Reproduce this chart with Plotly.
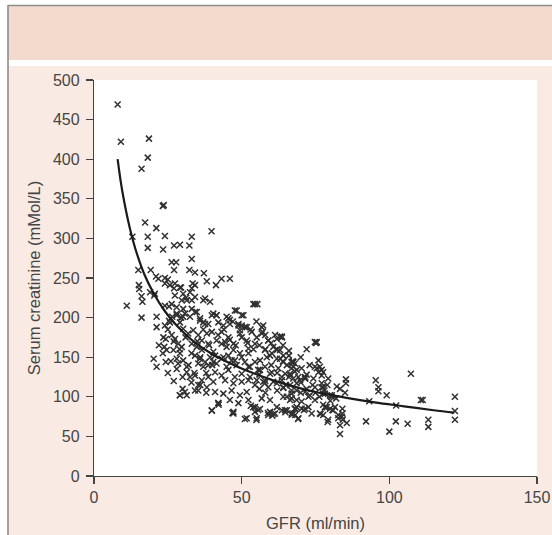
import plotly.graph_objects as go

# ---- Data ----
gfr = [
    8.0, 9.1, 18.6, 18.2, 16.1, 23.3, 23.6, 17.3, 21.1, 13.0, 18.2, 24.0, 33.1, 39.8,
    18.2, 23.4, 27.1, 29.1, 32.3, 26.3, 27.8, 33.1, 15.0, 19.2, 27.1, 32.3, 34.2, 37.2,
    21.0, 21.8, 24.0, 25.0, 38.2, 24.0, 27.4, 15.2, 27.1, 29.5, 34.2, 33.1, 15.3,
    16.1, 20.4, 27.4, 31.2, 34.2, 37.6, 43.2, 46.0, 41.3, 33.4, 25.7, 29.1,
    19.0, 20.6, 30.2, 32.5, 29.7, 31.4, 33.1, 37.0, 39.3, 54.0, 55.3,
    24.0, 26.3, 28.0, 30.2, 33.1, 34.8, 48.3, 50.6, 40.4, 41.5, 44.9, 46.0,
    21.2, 21.2, 28.0, 30.2, 25.7, 29.1, 35.9, 37.0, 38.7, 48.9, 51.7, 49.4, 42.1, 43.8, 46.0, 57.3, 57.1, 53.4, 55.1, 59.0, 61.9, 63.6,
    75.4, 72.0, 76.0, 76.5, 67.5,
    11.1, 16.1, 16.4, 25.4, 20.2, 21.2, 24.3, 23.5, 24.3, 23.8, 24.6, 23.3,
    26.3, 27.4, 28.5, 29.7, 26.9, 29.1, 28.0, 30.2, 28.5, 31.4,
    25.4, 26.5, 28.0, 29.5, 30.8, 32.5, 34.2, 35.9, 37.6, 39.9,
    30.2, 31.9, 33.6, 35.3, 36.5, 38.2, 39.9, 33.1, 34.8, 36.5, 38.7, 40.4,
    34.2, 35.9, 37.6, 39.3, 35.3, 37.0, 38.7, 40.4,
    31.4, 32.5, 34.2, 36.5, 38.7, 40.4, 35.3, 38.2, 34.2, 31.4, 29.1, 39.9,
    54.5, 41.5, 45.5, 47.7, 50.0, 48.9, 51.1, 56.8, 56.8, 59.0, 61.3, 63.6,
    43.2, 45.5, 44.4, 47.2, 49.4, 51.7, 54.5, 52.3, 57.9, 60.7, 63.0, 59.6, 61.9, 64.1,
    74.8, 74.8, 77.1, 41.0, 43.2, 45.5, 47.7, 50.0, 52.3, 54.5,
    52.3, 55.6, 57.9, 60.2, 62.4, 64.7, 66.9, 67.5, 69.2, 71.5,
    41.0, 43.2, 45.5, 47.7, 50.0, 44.4, 47.2, 50.0,
    52.3, 54.5, 57.3, 59.0, 61.9, 64.1, 66.4, 68.6, 71.5, 74.8, 77.1, 78.2, 80.5,
    41.0, 43.8, 46.6, 49.4, 51.7, 42.1, 46.0, 48.9, 52.3, 54.5, 56.8, 59.6, 61.9, 63.6, 66.4, 68.1, 70.3, 72.6, 74.8,
    54.5, 47.2, 59.0, 73.7, 76.5, 68.1, 78.8,
    107.3, 95.4, 96.3, 96.3, 99.1, 85.3, 85.3, 82.2, 83.3, 110.7, 111.3, 122.2, 122.2, 122.2,
    92.1, 102.2, 106.2, 113.2, 113.2, 100.0, 83.3, 85.6, 83.3, 83.9, 84.1, 84.1, 81.6, 82.7,
    75.2, 63.0, 67.3, 67.3, 63.0, 64.1, 65.3, 66.9, 68.6, 70.3, 75.4, 76.0, 77.1, 79.3, 77.6,
    67.5, 69.8, 71.5, 74.3, 77.1, 77.6, 63.6, 66.4, 66.9, 66.9, 66.9, 65.3, 64.1, 68.6,
    72.6, 73.1, 76.3, 77.6, 79.9, 80.5, 64.7, 66.9, 68.0, 69.2, 71.5, 77.6, 78.2, 77.6, 79.9, 81.0, 79.3, 82.7,
    93.2, 102.3, 47.2, 51.7, 55.1, 42.1, 29.1, 30.8, 35.3, 59.6, 61.3, 65.3, 67.5, 68.6, 70.3, 84.2,
    39.9, 42.2, 46.9, 51.1, 55.0, 53.1, 53.9, 55.6, 56.2, 58.9, 60.8, 60.4, 64.8, 67.0, 68.2, 69.1, 71.1, 76.7, 78.3, 79.1, 80.7,
    41.5, 43.2, 44.9, 47.2, 49.4, 43.8, 46.6, 41.5, 44.9, 48.3, 51.1, 52.8, 56.2, 58.5, 60.2, 61.9, 56.2, 59.6, 52.8, 55.1, 57.9, 60.7, 63.6, 66.4, 64.1, 68.6, 71.5,
    25, 27, 29, 31, 33, 35, 37, 39, 26, 28, 30, 32, 34, 36, 38, 40, 22, 24, 36, 38, 33, 30, 27, 25,
    42, 44, 46, 48, 50, 52, 54, 56, 58, 47, 50, 53, 55, 58, 60, 62, 64, 66,
    56, 58, 60, 62, 64, 66, 68, 70, 72, 74, 62, 65, 58, 56, 70, 72, 75, 78, 80, 82, 85, 79, 73, 70, 68, 66,
]
serum_creatinine = [
    469, 422, 426, 402, 388, 341, 342, 320, 313, 302, 302, 303, 302, 309,
    288, 286, 291, 292, 291, 270, 270, 274, 260, 260, 260, 260, 257, 256,
    252, 249, 250, 248, 246, 243, 243, 241, 237, 238, 241, 237, 236,
    227, 228, 228, 225, 226, 224, 249, 249, 241, 243, 241, 238,
    232, 230, 230, 232, 222, 222, 222, 222, 220, 217, 217,
    215, 217, 213, 211, 211, 207, 209, 203, 205, 203, 201, 197,
    201, 188, 203, 201, 194, 194, 196, 194, 192, 190, 188, 184, 194, 190, 192, 190, 182, 182, 175, 171, 173, 175,
    169, 160, 146, 138, 144,
    215, 200, 220, 214, 148, 138, 144, 175, 173, 163, 159, 155,
    178, 173, 167, 163, 159, 155, 148, 146, 142, 138,
    196, 201, 205, 200, 205, 201, 207, 199, 192, 203,
    186, 180, 184, 178, 171, 180, 182, 167, 163, 159, 167, 157,
    152, 148, 144, 150, 142, 138, 140, 144,
    131, 125, 127, 121, 125, 119, 115, 112, 108, 102, 102, 83,
    217, 203, 199, 209, 203, 192, 188, 188, 180, 171, 178, 176,
    182, 175, 169, 167, 180, 171, 167, 161, 159, 163, 159, 152, 148, 152,
    169, 138, 134, 152, 148, 152, 146, 150, 155, 144,
    138, 134, 138, 131, 136, 129, 144, 138, 125, 123,
    131, 127, 134, 125, 129, 121, 117, 119,
    121, 115, 119, 112, 117, 111, 115, 108, 106, 112, 112, 104, 102,
    106, 104, 108, 102, 106, 92, 96, 92, 96, 87, 98, 96, 87, 83, 96, 85, 94, 87, 96,
    81, 79, 77, 79, 79, 77, 87,
    129, 121, 112, 107, 102, 122, 117, 113, 110, 96, 96, 100, 82, 71,
    69, 69, 66, 71, 62, 56, 64, 67, 53, 75, 85, 79, 87, 77,
    168, 176, 145, 143, 148, 144, 140, 136, 134, 136, 136, 131, 127, 123, 131,
    123, 121, 125, 123, 117, 112, 121, 127, 108, 104, 98, 100, 100, 96,
    100, 102, 100, 104, 102, 100, 83, 79, 85, 73, 85, 90, 87, 77, 85, 83, 71, 73,
    94.5, 89, 81, 73, 73, 92, 102, 106, 108, 81, 79, 83, 79, 87, 85, 71,
    82.5, 90, 79.5, 72, 70.7, 88.8, 86.7, 83.3, 84.6, 79.5, 78.3, 76.2, 80.4, 77.4, 84.6, 72, 83.3, 78.3, 86.7, 68.2, 83.3,
    171, 167, 163, 159, 155, 150, 146, 142, 138, 140, 144, 138, 146, 150, 155, 159, 134, 129, 125, 121, 117, 119, 125, 129, 112, 117, 123,
    185, 170, 160, 175, 155, 170, 185, 165, 145, 135, 125, 140, 130, 150, 130, 140, 165, 190, 115, 105, 118, 110, 120, 130,
    178, 185, 172, 165, 175, 168, 160, 165, 160, 195, 190, 185, 195, 178, 168, 160, 165, 158,
    128, 120, 140, 130, 145, 125, 132, 118, 128, 115, 108, 115, 105, 110, 105, 110, 105, 108, 95, 98, 105, 115, 140, 150, 142, 152,
]

# fitted curve
curve_gfr = [8, 9, 10, 12, 14, 17, 20, 24, 28, 34, 40, 48, 56, 64, 75, 85, 95, 105, 115, 122]
curve_creatinine = [400, 373, 351, 315, 287, 255, 232, 208, 190, 169, 154, 139, 127, 117, 106, 99, 93, 88, 83, 80]

x_ticks = [0, 50, 100, 150]
y_ticks = [0, 50, 100, 150, 200, 250, 300, 350, 400, 450, 500]

# ---- Figure ----
W, H = 552, 535
L, R, T, B = 94, 15, 80, 59
pw, ph = W - L - R, H - T - B
BODY_PINK = "#f9ebe4"
HEADER_PINK = "#f4dacd"


def px_x(p):
    """page pixel x -> paper coordinate"""
    return (p - L) / pw


def px_y(p):
    """page pixel y -> paper coordinate"""
    return (H - B - p) / ph


fig = go.Figure()
fig.add_trace(go.Scatter(
    x=gfr, y=serum_creatinine, mode="markers",
    marker=dict(symbol="x-thin", size=6, color="#303030",
                line=dict(width=1.5, color="#303030")),
    showlegend=False, hoverinfo="skip",
))
fig.add_trace(go.Scatter(
    x=curve_gfr, y=curve_creatinine, mode="lines",
    line=dict(color="#1a1a1a", width=2.2, shape="spline"),
    showlegend=False, hoverinfo="skip",
))

shapes = [
    # white margin strips (top and left of the frame)
    dict(type="rect", xref="paper", yref="paper", layer="below",
         x0=px_x(-2), x1=px_x(W + 2), y0=px_y(66), y1=px_y(-2),
         fillcolor="white", line=dict(width=0)),
    dict(type="rect", xref="paper", yref="paper", layer="below",
         x0=px_x(-2), x1=px_x(8), y0=px_y(H + 2), y1=px_y(-2),
         fillcolor="white", line=dict(width=0)),
    # header band
    dict(type="rect", xref="paper", yref="paper", layer="below",
         x0=px_x(8), x1=px_x(W + 2), y0=px_y(60), y1=px_y(6),
         fillcolor=HEADER_PINK, line=dict(width=0)),
    # white plotting area
    dict(type="rect", xref="paper", yref="paper", layer="below",
         x0=0, x1=1, y0=0, y1=1, fillcolor="white", line=dict(width=0)),
    # frame lines
    dict(type="line", xref="paper", yref="paper", layer="below",
         x0=px_x(8), x1=px_x(8), y0=px_y(H + 2), y1=px_y(5),
         line=dict(color="#8c8c8c", width=1.6)),
    dict(type="line", xref="paper", yref="paper", layer="below",
         x0=px_x(8), x1=px_x(W + 2), y0=px_y(5.5), y1=px_y(5.5),
         line=dict(color="#8c8c8c", width=1.6)),
]

font_family = "Liberation Sans, Arial, sans-serif"
txt_color = "#454545"
axis_common = dict(
    showgrid=False, zeroline=False, showline=True, linecolor="#444444", linewidth=1.2,
    ticks="outside", ticklen=7, tickwidth=1.2, tickcolor="#444444",
    tickfont=dict(family=font_family, size=16, color=txt_color),
    automargin=False,
)

fig.update_layout(
    width=W, height=H,
    margin=dict(l=L, r=R, t=T, b=B, pad=0),
    paper_bgcolor=BODY_PINK, plot_bgcolor="rgba(0,0,0,0)",
    shapes=shapes,
    xaxis=dict(range=[0, 150], tickvals=x_ticks, **axis_common,
               title=dict(text="GFR (ml/min)", standoff=12,
                          font=dict(family=font_family, size=16.5, color=txt_color))),
    yaxis=dict(range=[0, 500], tickvals=y_ticks, ticklabelstandoff=3, **axis_common,
               title=dict(text="Serum creatinine (mMol/L)", standoff=8,
                          font=dict(family=font_family, size=16.5, color=txt_color))),
)

fig.write_html(
    "out.html",
    config={"displayModeBar": False, "staticPlot": True},
    post_script=(
        "document.documentElement.style.overflow='hidden';"
        "document.documentElement.style.background='" + BODY_PINK + "';"
        "document.body.style.margin='0';"
        "document.body.style.overflow='hidden';"
        "document.body.style.background='" + BODY_PINK + "';"
    ),
)
